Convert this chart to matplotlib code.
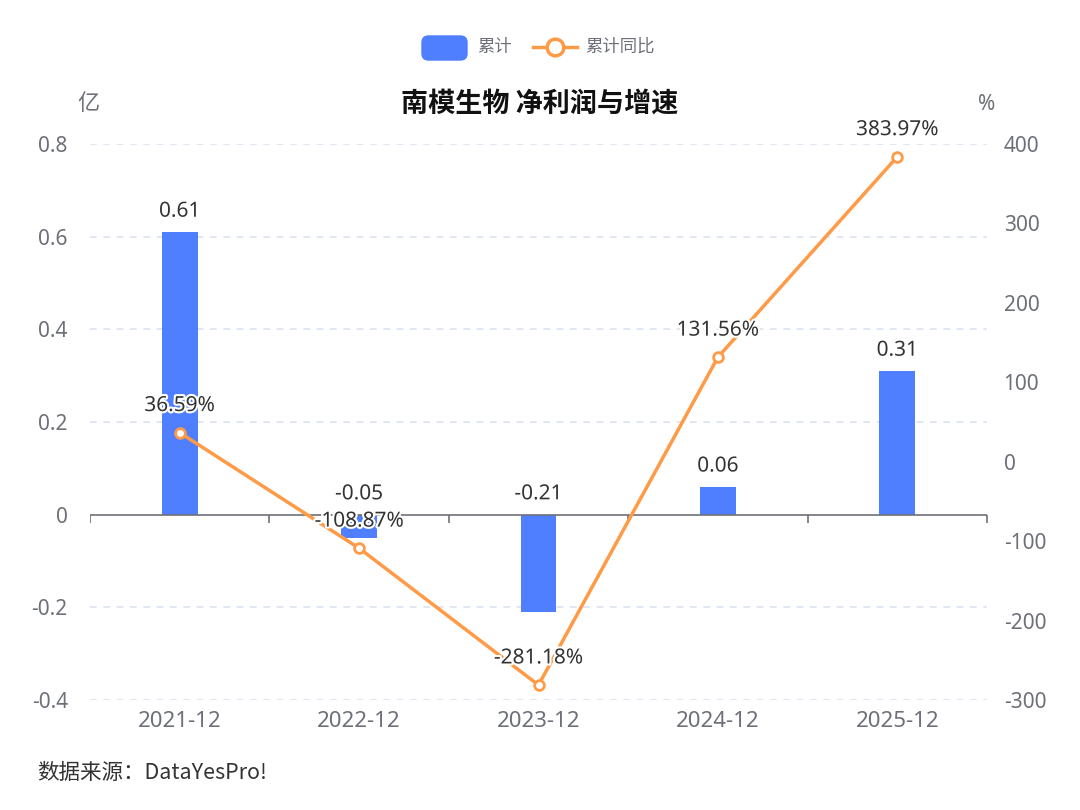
import matplotlib
matplotlib.use("Agg")
import matplotlib.pyplot as plt
import matplotlib.patheffects as pe
from matplotlib.patches import FancyBboxPatch
from matplotlib.lines import Line2D

plt.rcParams['font.family'] = ['Noto Sans', 'Noto Sans CJK SC', 'DejaVu Sans']
plt.rcParams['axes.unicode_minus'] = False
CJK = ['Noto Sans CJK SC', 'DejaVu Sans']

categories = ["2021-12", "2022-12", "2023-12", "2024-12", "2025-12"]
profit = [0.61, -0.05, -0.21, 0.06, 0.31]
growth = [36.59, -108.87, -281.18, 131.56, 383.97]
left_ticks = [-0.4, -0.2, 0, 0.2, 0.4, 0.6, 0.8]
left_labels = ["-0.4", "-0.2", "0", "0.2", "0.4", "0.6", "0.8"]
right_ticks = [-300, -200, -100, 0, 100, 200, 300, 400]

BLUE = "#4F7FFF"
ORANGE = "#FF9A47"
GRAY = "#6E7079"
GRID = "#DCE2F1"
TXT = "#333333"

fig = plt.figure(figsize=(10.8, 8.1), dpi=100)
ax = fig.add_axes([90/1080, 1-700/810, (987-90)/1080, (700-144)/810])
ax2 = ax.twinx()

x = list(range(len(categories)))
ax.bar(x, profit, width=0.2, color=BLUE, zorder=2)
ax.set_xlim(-0.5, len(categories)-0.5)
ax.set_ylim(-0.4, 0.8)
ax.set_yticks(left_ticks)
ax.set_yticklabels(left_labels)
for t in left_ticks:
    if t != 0:
        ax.axhline(t, color=GRID, lw=1.2, ls=(0, (4, 4)), zorder=0)
ax.axhline(0, color=GRAY, lw=1.2, zorder=3)
bounds = [i - 0.5 for i in range(len(categories)+1)]
ax.plot(bounds, [0]*len(bounds), ls='none', marker=3, markersize=6,
        markeredgewidth=1.2, color=GRAY, zorder=3)

ax.set_xticks(x)
ax.set_xticklabels(categories)
for a in (ax, ax2):
    for s in a.spines.values():
        s.set_visible(False)
ax.tick_params(axis='x', length=0, pad=8, labelsize=16, labelcolor=GRAY)
ax.tick_params(axis='y', length=0, pad=16, labelsize=15, labelcolor=GRAY)

ax2.set_ylim(-300, 400)
ax2.set_yticks(right_ticks)
ax2.set_yticklabels([str(t) for t in right_ticks])
ax2.tick_params(axis='y', length=0, pad=12, labelsize=15, labelcolor=GRAY)
ax2.plot(x, growth, color=ORANGE, lw=2.5, marker='o', markersize=7,
         markerfacecolor='white', markeredgecolor=ORANGE, markeredgewidth=2,
         zorder=4)

halo = [pe.withStroke(linewidth=3, foreground='white')]
for xi, v in zip(x, profit):
    ax.annotate(f"{v:.2f}", (xi, max(v, 0)), xytext=(0, 15), textcoords='offset points',
                ha='center', va='center', fontsize=15, color=TXT,
                path_effects=halo, zorder=5)
for xi, v in zip(x, growth):
    ax2.annotate(f"{v:.2f}%", (xi, v), xytext=(0, 19.5), textcoords='offset points',
                 ha='center', va='center', fontsize=15, color=TXT,
                 path_effects=halo, zorder=6)

# Title and unit labels
fig.text(540/1080, 1-104/810, "南模生物 净利润与增速", ha='center', va='center',
         fontsize=19.5, fontweight='bold', color='#111111', family=CJK)
fig.text(88/1080, 1-104/810, "亿", ha='center', va='center', fontsize=16,
         color=GRAY, family=CJK)
fig.text(987/1080, 1-104/810, "%", ha='center', va='center', fontsize=15, color=GRAY)

# Legend
fig.patches.append(FancyBboxPatch((422/1080, 1-60/810), 45/1080, 24/810,
                                  boxstyle="round,pad=0,rounding_size=0.006",
                                  transform=fig.transFigure, color=BLUE,
                                  mutation_aspect=1080/810))
fig.text(477/1080, 1-47/810, "累计", ha='left', va='center', fontsize=12.5,
         color=GRAY, family=CJK)
fig.lines.append(Line2D([533/1080, 577/1080], [1-47/810, 1-47/810],
                        transform=fig.transFigure, color=ORANGE, lw=2.5))
fig.lines.append(Line2D([555/1080], [1-47/810], transform=fig.transFigure,
                        marker='o', markersize=12, markerfacecolor='white',
                        markeredgecolor=ORANGE, markeredgewidth=2.5, ls='none'))
fig.text(585/1080, 1-47/810, "累计同比", ha='left', va='center', fontsize=12.5,
         color=GRAY, family=CJK)

fig.text(37/1080, 1-773/810, "数据来源：DataYesPro!", ha='left', va='center',
         fontsize=15.5, color=TXT, family=['Noto Sans CJK SC', 'DejaVu Sans'])

fig.savefig("out.png", dpi=100, facecolor='white')
